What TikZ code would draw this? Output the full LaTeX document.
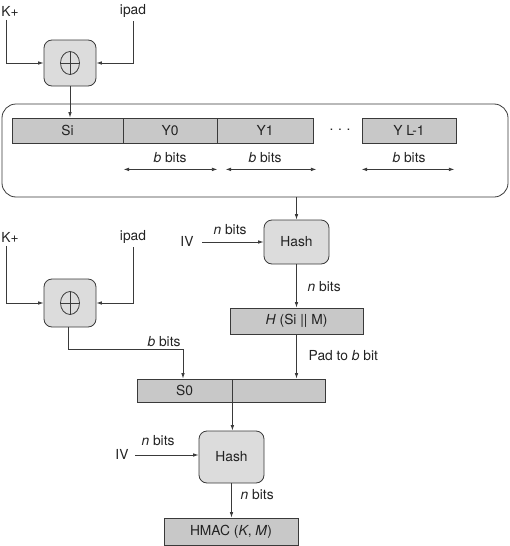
\documentclass[tikz,border=0pt]{standalone}
\usepackage{fontspec}
\setmainfont{TeX Gyre Heros}
\usetikzlibrary{arrows.meta, calc, positioning}
\definecolor{hmGrey}{HTML}{C8C8C8}
\definecolor{hmLight}{HTML}{DCDCDC}
\definecolor{hmLine}{HTML}{3A3A3A}
\definecolor{hmText}{HTML}{222222}
\tikzset{
  % thin dark lines and small filled tips, as in the textbook figure
  every picture/.append style = {line width=0.8pt, hmLine, >={Latex[length=5.5pt,width=3.6pt]}},
  cell/.style     = {draw=hmLine, fill=hmGrey, minimum height=25pt, inner sep=0pt,
                     text=hmText, font=\fontsize{13.8}{16}\selectfont},
  roundbox/.style = {draw=hmLine, fill=hmLight, rounded corners=8pt, inner sep=0pt,
                     text=hmText, font=\fontsize{13.8}{16}\selectfont},
  msgbox/.style   = {draw=hmLine, rounded corners=14pt, inner sep=0pt},
  lbl/.style      = {text=hmText, font=\fontsize{13.8}{16}\selectfont},
  dimarrow/.style = {<->, line width=0.7pt},
}

\begin{document}
\begin{tikzpicture}[x=1pt,y=-1pt]
  \useasboundingbox (0,0) rectangle (510,546);
  % --- inner key: K+ xor ipad ----------------------------------------------
  \node[lbl] (kplusA) at (10,11) {K+};
  \node[lbl] (ipadA) at (133,11) {ipad};
  \node[roundbox, minimum width=52pt, minimum height=46pt] (xorA) at (70,63) {};
  \draw[->] ([xshift=-4pt]kplusA.south) |- (xorA.west);
  \draw[->] (ipadA.south) |- (xorA.east);
  % --- message blocks ------------------------------------------------------
  \node[msgbox, minimum width=506pt, minimum height=93pt] (msg) at (255,150.5) {};
  \node[cell, minimum width=111pt] (si) at (67.5,130.5) {Si};
  \node[cell, minimum width=94pt]  (y0) at (170,130.5) {Y0};
  \node[cell, minimum width=96pt]  (y1) at (265,130.5) {Y1};
  \node[lbl] (dots) at (340,130) {.\,\,.\,\,.};
  \node[cell, minimum width=94pt]  (yl) at (409,130.5) {Y L-1};
  \draw[->] (xorA.south) -- (xorA.south |- si.north);
  \foreach \c in {y0,y1,yl}
    \node[lbl] (bb-\c) at ($(\c.south)+(0,14)$) {\textit{b} bits};
  \draw[dimarrow] ([xshift=1pt,yshift=-26pt]y0.south west) -- ([yshift=-26pt]y0.south east);
  \draw[dimarrow] ([xshift=9pt,yshift=-26pt]y1.south west) -- ([xshift=3pt,yshift=-26pt]y1.south east);
  \draw[dimarrow] ([yshift=-26pt]yl.south west) -- ([xshift=-2pt,yshift=-26pt]yl.south east);
  % --- inner hash ----------------------------------------------------------
  \node[roundbox, minimum width=65pt, minimum height=44pt] (hashA) at (296.5,242) {Hash};
  \node[lbl] (ivA) at (187,241) {IV};
  \node[lbl] (nA) at (230,230) {\textit{n} bits};
  \draw[->] (msg.south -| hashA.north) -- (hashA.north);
  \draw[->] ([xshift=5pt,yshift=-1pt]ivA.east) -- ([yshift=-1pt]ivA.east -| hashA.west);
  \node[cell, minimum width=133pt, minimum height=26pt] (hin) at (296.5,321) {\textit{H} (Si || M)};
  \node[lbl, anchor=west] (nB) at (304,287) {\textit{n} bits};
  \draw[->] (hashA) -- (hin);
  % --- outer key: K+ xor ipad ----------------------------------------------
  \node[lbl] (kplusB) at (10,237) {K+};
  \node[lbl] (ipadB) at (133,237) {ipad};
  \node[roundbox, minimum width=52pt, minimum height=48pt] (xorB) at (70,303) {};
  \draw[->] ([xshift=-4pt]kplusB.south) |- (xorB.west);
  \draw[->] (ipadB.south) |- (xorB.east);
  \foreach \x in {xorA,xorB} {
    \draw (\x.center) ellipse (9.5 and 11.5);
    \draw ($(\x.center)+(-9.5,0)$) -- ($(\x.center)+(9.5,0)$);
    \draw ($(\x.center)+(0,-11.5)$) -- ($(\x.center)+(0,11.5)$);
  }
  % --- outer hash ----------------------------------------------------------
  \node[cell, minimum width=95pt, minimum height=23pt] (s0) at (184.5,390.5) {S0};
  \node[cell, minimum width=93pt, minimum height=23pt] (pad) at (278.5,390.5) {};
  \node[lbl] (bbB) at (164,342) {\textit{b} bits};
  \node[lbl, anchor=west] (padlbl) at (305,356) {Pad to \textit{b} bit};
  \draw[->] ([xshift=-2pt]xorB.south) -- ++(0,22) -| ([xshift=-1.5pt]s0.north);
  \draw[->] (hin.south) -- (hin.south |- pad.north);
  \node[roundbox, minimum width=65pt, minimum height=52pt] (hashB) at (231.5,457) {Hash};
  \node[lbl] (ivB) at (122,454) {IV};
  \node[lbl] (nC) at (158,441) {\textit{n} bits};
  \draw[->] ([xshift=3pt,yshift=-1pt]ivB.east) -- ([yshift=-1pt]ivB.east -| hashB.west);
  \draw[->] (s0.south east) -- (s0.south east |- hashB.north);
  \node[cell, minimum width=134pt, minimum height=27pt] (hmac) at (231,531.5) {HMAC (\textit{K}, \textit{M})};
  \node[lbl, anchor=west] (nD) at (237,495) {\textit{n} bits};
  \draw[->] (hashB.south) -- (hashB.south |- hmac.north);
\end{tikzpicture}
\end{document}
